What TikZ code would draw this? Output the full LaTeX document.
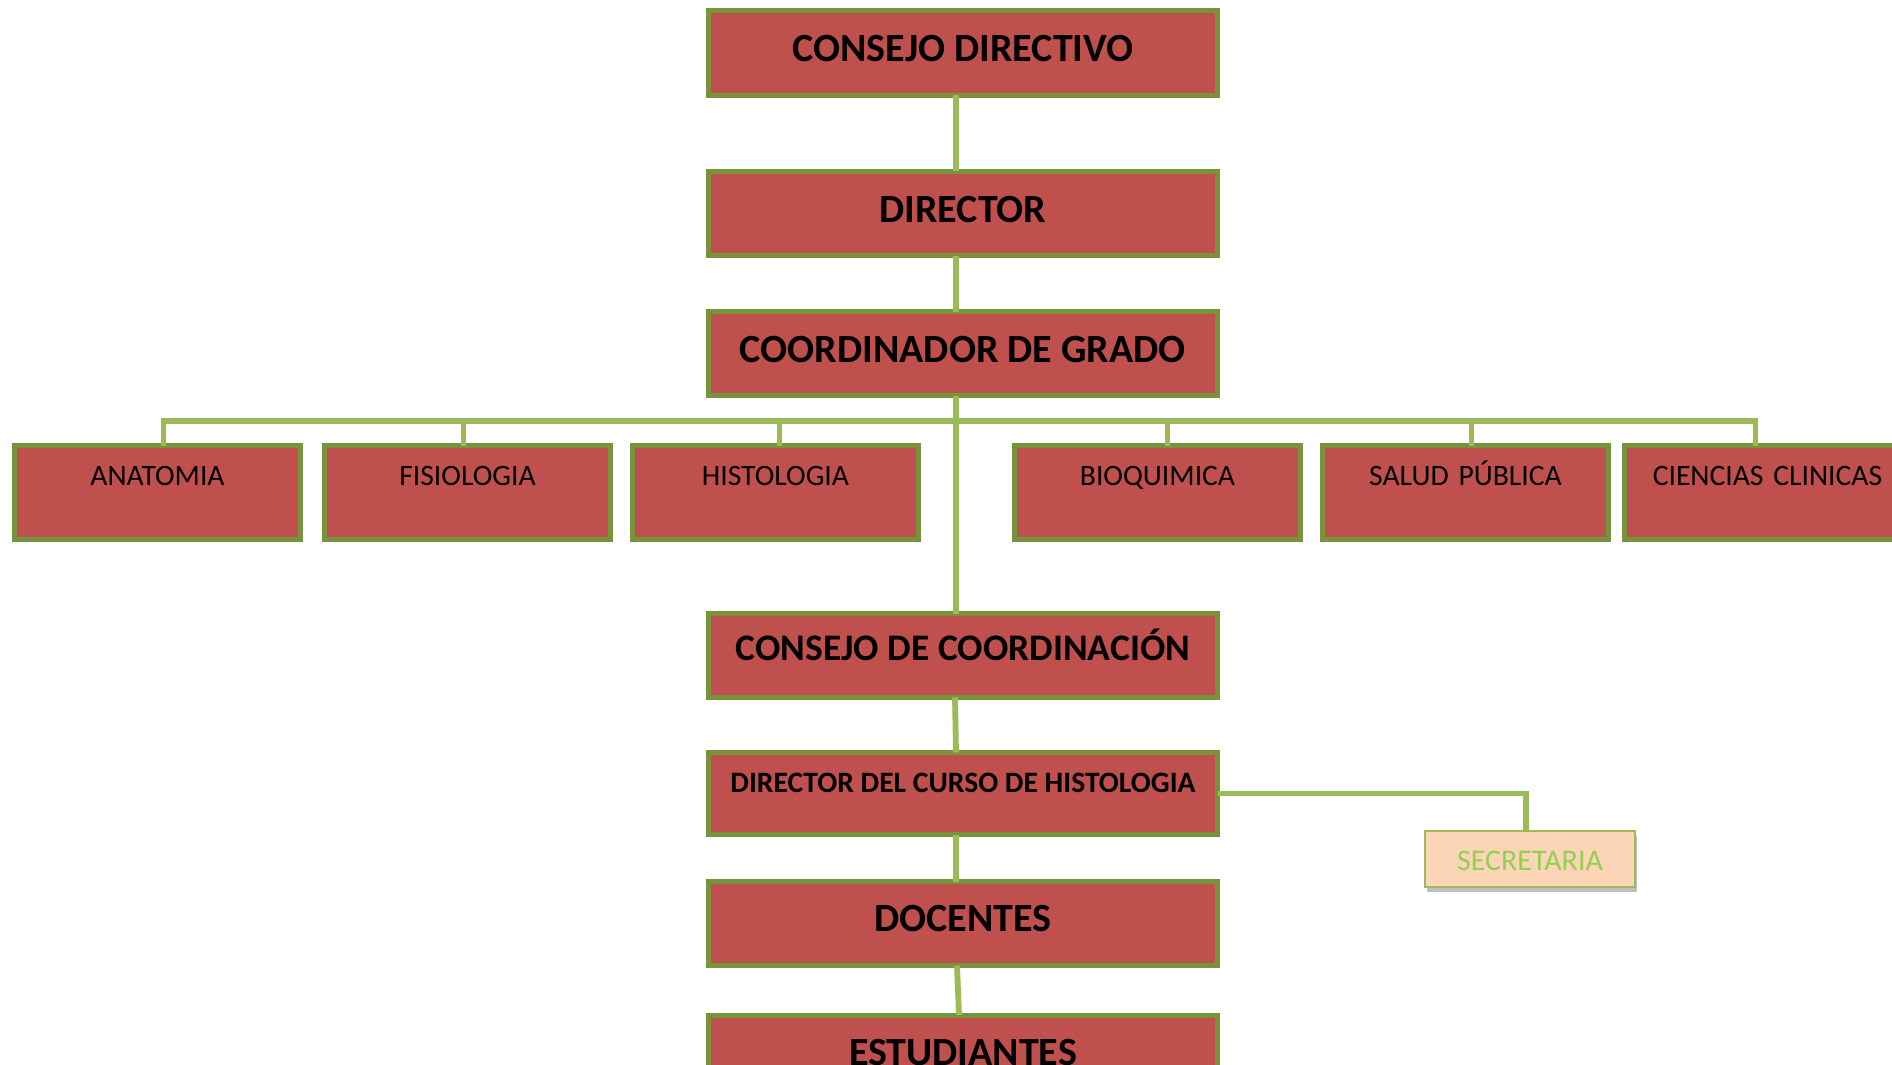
\documentclass[tikz,border=0pt]{standalone}
\usepackage{fontspec}
\setmainfont{Carlito}
\usetikzlibrary{backgrounds,shadows}
\definecolor{boxfill}{HTML}{C0504D}
\definecolor{boxline}{HTML}{77933C}
\definecolor{connc}{HTML}{9BBB59}
\definecolor{secfill}{HTML}{FBD5B5}
\definecolor{sectext}{HTML}{92D050}
\tikzset{
  basebox/.style={draw=boxline, fill=boxfill, line width=2.5pt, inner xsep=0pt, inner ysep=0pt, outer sep=0pt, align=center, text=black},
  bigbox/.style={basebox, minimum width=254.5pt, font=\fontsize{20pt}{24pt}\selectfont\bfseries},
  deptbox/.style={basebox, text width=143pt, font=\fontsize{14.8pt}{17pt}\selectfont, text height=19.75pt, text depth=27.25pt},
  secbox/.style={draw=connc, fill=secfill, line width=1pt, inner xsep=0pt, inner ysep=0pt, outer sep=0pt, text width=105pt, align=center, text=sectext, font=\fontsize{15pt}{17pt}\selectfont, text height=19.5pt, text depth=8.5pt, drop shadow={shadow xshift=1pt, shadow yshift=-2.5pt, opacity=0.25, fill=black}},
  connline/.style={draw=connc, line width=2.9pt},
  connshadow/.style={draw=black!10, line width=4pt, transform canvas={xshift=1pt, yshift=-3pt}}
}
\newcommand\myconnectors[1]{%
  \draw[#1] ([xshift=-3.5pt]cd.south) -- ([xshift=-3.5pt]dir.north);
  \draw[#1] ([xshift=-3.5pt]dir.south) -- ([xshift=-3.5pt]coord.north);
  \draw[#1] ([xshift=-3.5pt]coord.south) -- ([xshift=-3.5pt]cc.north);
  \draw[#1] (bus) -| ([xshift=3pt]anat.north);
  \draw[#1] (bus) -| ([xshift=-2pt]fisio.north);
  \draw[#1] (bus) -| ([xshift=2pt]histo.north);
  \draw[#1] (bus) -| ([xshift=5pt]bioq.north);
  \draw[#1] (bus) -| ([xshift=3pt]salud.north);
  \draw[#1] (bus) -| ([xshift=-6pt]clin.north);
  \draw[#1] ([xshift=-4pt]cc.south) -- ([xshift=-3.5pt]dc.north);
  \draw[#1] (dc.east) -| ([xshift=-2pt]sec.north);
  \draw[#1] ([xshift=-3.5pt]dc.south) -- ([xshift=-3.5pt]doc.north);
  \draw[#1] ([xshift=-3pt]doc.south) -- ([xshift=-2pt]est.north);
}
\begin{document}
\begin{tikzpicture}[x=0.5pt, y=-0.5pt]
\useasboundingbox (0,0) rectangle (1892,1065);
\clip (0,0) rectangle (1892,1065);
\fill[white] (0,0) rectangle (1892,1065);
% central column
\node[bigbox, text height=25.75pt, text depth=16.75pt] (cd) at (963,53) {CONSEJO DIRECTIVO};
\node[bigbox, text height=25.25pt, text depth=16.75pt] (dir) at (963,213.5) {DIRECTOR};
\node[bigbox, text height=25.25pt, text depth=16.75pt] (coord) at (963,353.5) {COORDINADOR DE GRADO};
\node[bigbox, text height=23.25pt, text depth=18.75pt, font=\fontsize{18.75pt}{22pt}\selectfont\bfseries] (cc) at (963,655.5) {CONSEJO DE COORDINACIÓN};
\node[bigbox, text height=19.75pt, text depth=21.25pt, font=\fontsize{14.8pt}{17pt}\selectfont\bfseries] (dc) at (963,793.5) {DIRECTOR DEL CURSO DE HISTOLOGIA};
\node[bigbox, text height=24.75pt, text depth=17.25pt] (doc) at (963,923.5) {DOCENTES};
\node[bigbox, text height=25.25pt, text depth=17.25pt] (est) at (963,1057.5) {ESTUDIANTES};
% departments
\node[deptbox] (anat) at (157.5,492.5) {ANATOMIA};
\node[deptbox] (fisio) at (467.5,492.5) {FISIOLOGIA};
\node[deptbox] (histo) at (775.5,492.5) {HISTOLOGIA};
\node[deptbox] (bioq) at (1157.5,492.5) {BIOQUIMICA};
\node[deptbox] (salud) at (1465.5,492.5) {SALUD PÚBLICA};
\node[deptbox] (clin) at (1767.5,492.5) {CIENCIAS CLINICAS};
% secretary
\node[secbox] (sec) at (1530,859) {SECRETARIA};
\coordinate (bus) at (956,421);
\begin{scope}[on background layer]
  \myconnectors{connshadow}
\end{scope}
\myconnectors{connline}
\end{tikzpicture}
\end{document}
